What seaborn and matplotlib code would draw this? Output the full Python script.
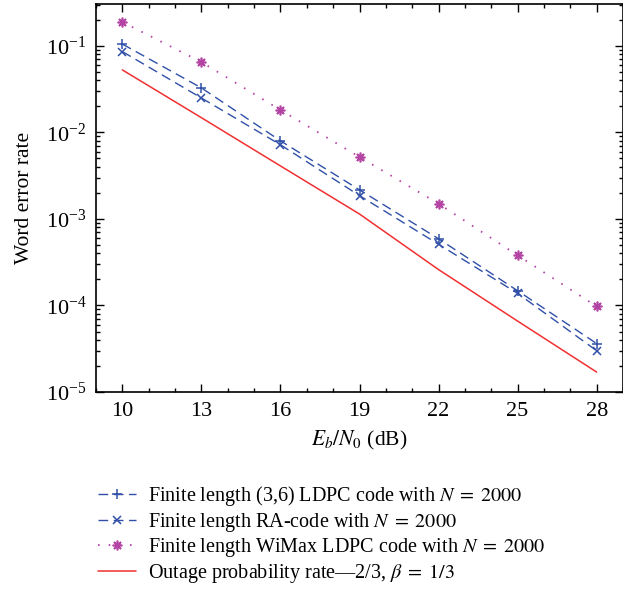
import numpy as np
import pandas as pd
import matplotlib
matplotlib.use("Agg")
import matplotlib.pyplot as plt
import seaborn as sns
from matplotlib.ticker import MultipleLocator, LogLocator

# data
snr_db = [10, 13, 16, 19, 22, 25, 28]
wer_ldpc36 = [0.105, 0.0327, 0.0080, 0.00217, 0.00059, 0.000148, 0.0000363]
wer_ra = [0.086, 0.025, 0.0072, 0.00186, 0.00051, 0.000138, 0.0000300]
wer_wimax = [0.189, 0.065, 0.0182, 0.0052, 0.0015, 0.00038, 0.0000975]
wer_outage = [0.0528, 0.0148, 0.0041, 0.00114, 0.00026, 0.000066, 0.000017]

labels = [
    "Finite length (3,6) LDPC code with $N\\;=\\;2000$",
    "Finite length RA-code with $N\\;=\\;2000$",
    "Finite length WiMax LDPC code with $N\\;=\\;2000$",
    "Outage probability rate\u20142/3, $\\beta\\;=\\;1/3$",
]

sns.set_style("ticks")
plt.rcParams["font.family"] = ["Liberation Serif", "DejaVu Serif"]
plt.rcParams["mathtext.fontset"] = "stix"
plt.rcParams["font.size"] = 14.5
plt.rcParams["text.color"] = "black"
plt.rcParams["axes.labelcolor"] = "black"
plt.rcParams["axes.edgecolor"] = "black"
plt.rcParams["xtick.color"] = "black"
plt.rcParams["ytick.color"] = "black"

blue = "#3050a8"
magenta = "#b444a4"
red = "#f03030"

fig = plt.figure(figsize=(6.23, 5.90), dpi=100)
ax = fig.add_axes([96 / 623, 1 - 392 / 590, 527 / 623, 388 / 590])

sns.lineplot(x=snr_db, y=wer_ldpc36, ax=ax, color=blue, marker="+", markersize=7,
             markeredgecolor=blue, markeredgewidth=1.1, linewidth=1.0, label=labels[0])
sns.lineplot(x=snr_db, y=wer_ra, ax=ax, color=blue, marker="x", markersize=6,
             markeredgecolor=blue, markeredgewidth=1.1, linewidth=1.0, label=labels[1])
sns.lineplot(x=snr_db, y=wer_wimax, ax=ax, color=magenta, marker=(8, 2, 0), markersize=7,
             markeredgecolor=magenta, markeredgewidth=1.2, linewidth=1.3, label=labels[2])
sns.lineplot(x=snr_db, y=wer_outage, ax=ax, color=red, linewidth=1.1, label=labels[3])

lines = ax.get_lines()
lines[0].set_dashes((7, 4))
lines[1].set_dashes((7, 4))
lines[2].set_dashes((0.9, 5))

ax.set_yscale("log")
ax.set_xlim(9, 29)
ax.set_ylim(1e-5, 0.305)
ax.set_xticks([10, 13, 16, 19, 22, 25, 28])
ax.xaxis.set_minor_locator(MultipleLocator(1))
ax.yaxis.set_major_locator(LogLocator(base=10, numticks=10))
ax.yaxis.set_minor_locator(LogLocator(base=10, subs=np.arange(2, 10), numticks=20))
ax.tick_params(which="both", direction="in", top=True, right=True, width=1.0)
ax.tick_params(which="major", length=6, labelsize=16, pad=7)
ax.tick_params(which="minor", length=3)
for s in ax.spines.values():
    s.set_linewidth(1.2)

ax.set_xlabel("$E_b/N_0$ (dB)", fontsize=15.5, labelpad=6)
ax.set_ylabel("Word error rate", fontsize=15.5, labelpad=8)

handles, lbls = ax.get_legend_handles_labels()
ax.get_legend().remove()
fig.legend(handles, lbls, loc="upper left", bbox_to_anchor=(90 / 623, 1 - 476 / 590),
           frameon=False, fontsize=14.5, handlelength=1.9, handletextpad=0.6,
           labelspacing=0.13, borderaxespad=0)

fig.savefig("out.png", dpi=100)
